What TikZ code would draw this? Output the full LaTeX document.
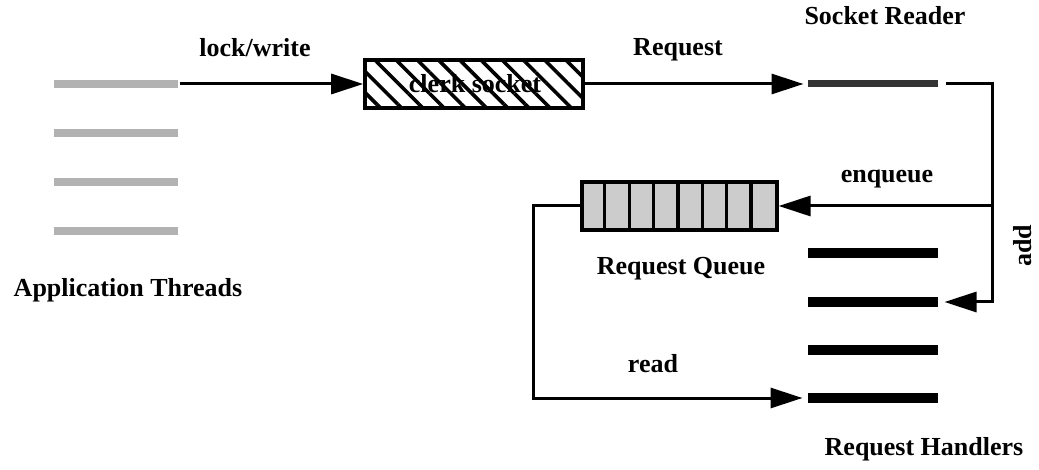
\documentclass[tikz,border=0pt]{standalone}
\usepackage{fontspec}
\setmainfont{Liberation Serif}
\usetikzlibrary{arrows.meta,patterns.meta}

\begin{document}
\begin{tikzpicture}[x=1pt,y=-1pt,line width=3pt,
  font=\fontsize{26}{30}\selectfont\bfseries,
  lbl/.style={anchor=base,inner sep=0pt},
  tip/.style={-{Triangle[length=32pt,width=20pt]}},
  bar/.style={rectangle,draw=none,inner sep=0pt,minimum width=#1},
  appbar/.style={bar=124pt,minimum height=8pt,fill=gray!60},
  readerbar/.style={bar=130pt,minimum height=7pt,fill=black!80},
  handlerbar/.style={bar=130pt,minimum height=10pt,fill=black},
  clerkbox/.style={rectangle,draw,line width=3.2pt,inner sep=0pt,
    minimum width=218pt,minimum height=48pt,
    pattern={Lines[angle=-45,distance=15pt,line width=3.6pt]}},
  queuebox/.style={rectangle,draw,line width=3.2pt,inner sep=0pt,
    minimum width=195pt,minimum height=48pt,fill=gray!40}]
\path[use as bounding box] (0,0) rectangle (1039,470);

% application threads
\node[appbar] (t1) at (116,84) {};
\node[appbar] (t2) at (116,133) {};
\node[appbar] (t3) at (116,182) {};
\node[appbar] (t4) at (116,231) {};
\node[lbl] (tl) at (128,297) {Application Threads};

% clerk socket
\node[clerkbox] (clerk) at (474,84) {};
\node[lbl] (clerkl) at (475,93) {clerk socket};

% socket reader
\node[readerbar] (sr) at (873,84) {};
\node[lbl] (srl) at (885,25) {Socket Reader};

% request queue with its cells
\node[queuebox] (q) at (679.5,206) {};
\foreach \i in {1,...,7}
  \draw[line width=3.2pt] ([xshift=\i*195/8 pt]q.north west) -- ([xshift=\i*195/8 pt]q.south west);
\node[lbl] (ql) at (681,275) {Request Queue};

% request handlers
\node[handlerbar] (h1) at (873,253) {};
\node[handlerbar] (h2) at (873,302) {};
\node[handlerbar] (h3) at (873,350) {};
\node[handlerbar] (h4) at (873,398) {};
\node[lbl] (hl) at (924,455) {Request Handlers};

% connectors
\draw[tip] (t1.east) -- (clerk.west);
\node[lbl] at (255,57) {lock/write};
\draw[tip] (clerk.east) -- ([xshift=-3pt]sr.west);
\node[lbl] at (678,56) {Request};

\coordinate (c1) at (992,84);
\coordinate (c2) at (992,206);
\draw[tip] ([xshift=6pt]sr.east) -- (c1) |- ([xshift=5pt]h2.east);
\draw[tip] (c2) -- (q.east);
\node[lbl] at (887,183) {enqueue};
\node[rotate=90,inner sep=0pt] at (1023,246) {add};

\draw[tip] (q.west) -- ++(-47,0) |- ([xshift=-4pt]h4.west);
\node[lbl] at (653,373) {read};
\end{tikzpicture}
\end{document}
